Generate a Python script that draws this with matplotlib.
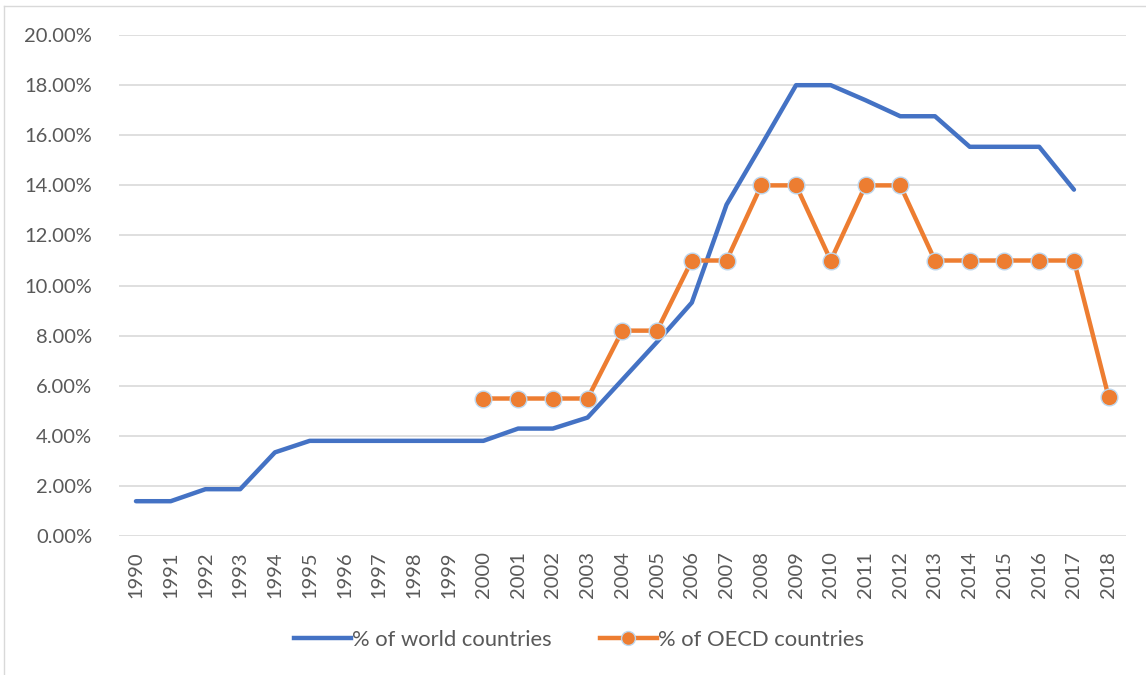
import matplotlib.pyplot as plt
from matplotlib.lines import Line2D
from matplotlib.ticker import FuncFormatter

years = list(range(1990, 2019))
world_pct = [1.39, 1.39, 1.87, 1.87, 3.34, 3.80, 3.80, 3.80, 3.80, 3.80,
             3.80, 4.29, 4.29, 4.73, 6.24, 7.75, 9.32, 13.23, 15.60, 18.00,
             18.00, 17.40, 16.76, 16.76, 15.54, 15.54, 15.54, 13.83]
oecd_years = list(range(2000, 2019))
oecd_pct = [5.49, 5.49, 5.49, 5.49, 8.20, 8.20, 11.0, 11.0, 14.0, 14.0,
            11.0, 14.0, 14.0, 11.0, 11.0, 11.0, 11.0, 11.0, 5.54]

BLUE = '#4472C4'
ORANGE = '#ED7D31'
GRID = '#D9D9D9'
TXT = '#595959'

plt.rcParams['font.family'] = ['Lato', 'DejaVu Sans']

fig = plt.figure(figsize=(11.46, 6.75), dpi=100)
ax = fig.add_axes([0.1035, 0.2059, 0.8791, 0.7421])

xpos = {y: i for i, y in enumerate(years)}
ax.plot([xpos[y] for y in years[:len(world_pct)]], world_pct, color=BLUE,
        lw=3.2, solid_capstyle='round', solid_joinstyle='round', zorder=3)
ax.plot([xpos[y] for y in oecd_years], oecd_pct, color=ORANGE, lw=3.2,
        marker='o', ms=12, mfc=ORANGE, mec='#BDD7EE', mew=1.0,
        solid_joinstyle='round', zorder=4)

ax.set_xlim(-0.5, len(years) - 0.5)
ax.set_ylim(0, 20)
ax.set_yticks(range(0, 21, 2))
ax.yaxis.set_major_formatter(FuncFormatter(lambda v, p: '%.2f%%' % v))
ax.set_xticks(range(len(years)))
ax.set_xticklabels([str(y) for y in years], rotation=90)
ax.grid(axis='y', color=GRID, lw=1.2)
ax.set_axisbelow(True)
for s in ax.spines.values():
    s.set_visible(False)
ax.tick_params(axis='both', length=0, colors=TXT, labelsize=14.5)
ax.tick_params(axis='y', pad=19)
ax.tick_params(axis='x', pad=11)

handles = [Line2D([], [], color=BLUE, lw=3.2),
           Line2D([], [], color=ORANGE, lw=3.2, marker='o', ms=10,
                  mfc=ORANGE, mec='#BDD7EE', mew=1.0)]
leg = fig.legend(handles, ['% of world countries', '% of OECD countries'],
                 loc='center', bbox_to_anchor=(0.505, 0.052), ncol=2,
                 frameon=False, fontsize=15.8, handlelength=2.6,
                 handletextpad=0.05, columnspacing=2.2)
for t in leg.get_texts():
    t.set_color(TXT)

# outer chart border (left and top edges visible)
fig.add_artist(Line2D([4 / 1146, 4 / 1146], [0, 1 - 6 / 675],
                      transform=fig.transFigure, color=GRID, lw=1))
fig.add_artist(Line2D([4 / 1146, 1], [1 - 6 / 675, 1 - 6 / 675],
                      transform=fig.transFigure, color=GRID, lw=1))

fig.savefig('out.png', dpi=100)
